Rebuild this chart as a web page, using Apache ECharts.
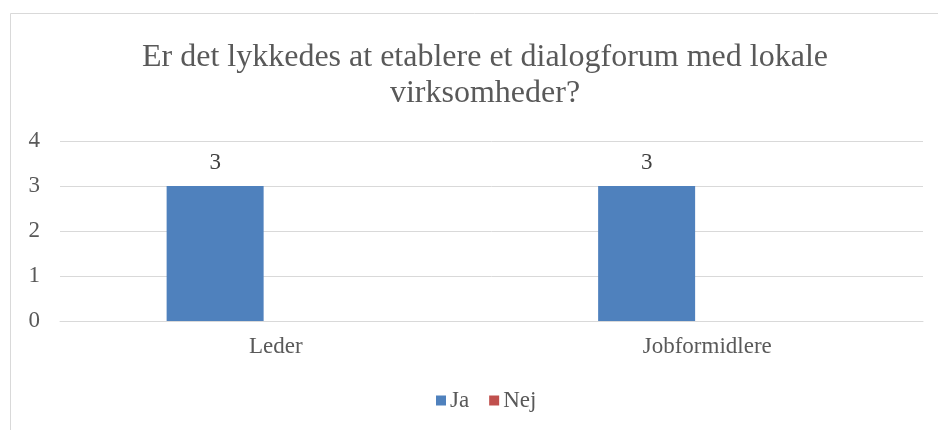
<!DOCTYPE html>
<html>
<head>
<meta charset="utf-8">
<script src="https://cdn.jsdelivr.net/npm/echarts@6/dist/echarts.min.js"></script>
<style>
  html, body { margin: 0; padding: 0; background: #fff; }
  #chart { width: 938px; height: 430px; }
</style>
</head>
<body>
<div id="chart"></div>
<script>
// data
const categories = ['Leder', 'Jobformidlere'];
const jaValues = [3, 3];
const nejValues = [0, 0];
const yTicks = [0, 1, 2, 3, 4];

const serif = '"Liberation Serif", "DejaVu Serif", serif';
const chart = echarts.init(document.getElementById('chart'));

const option = {
  animation: false,
  backgroundColor: '#fff',
  textStyle: { fontFamily: serif },
  title: {
    text: 'Er det lykkedes at etablere et dialogforum med lokale\nvirksomheder?',
    left: 480,
    textAlign: 'center',
    top: 35,
    textStyle: {
      fontFamily: serif,
      fontSize: 32,
      fontWeight: 'normal',
      color: '#595959',
      lineHeight: 36
    }
  },
  graphic: [{
    type: 'rect',
    shape: { x: 10.5, y: 13.5, width: 1000, height: 500 },
    style: { fill: 'none', stroke: '#d9d9d9', lineWidth: 1 },
    silent: true
  }],
  legend: {
    data: ['Ja', 'Nej'],
    bottom: 13,
    left: 431,
    icon: 'rect',
    itemWidth: 10,
    itemHeight: 10,
    itemGap: 20,
    textStyle: { fontFamily: serif, fontSize: 23, color: '#595959', padding: [0, 0, 0, -1] }
  },
  grid: {
    left: 60,
    right: 15,
    top: 141,
    bottom: 109,
    outerBoundsMode: 'none'
  },
  xAxis: {
    type: 'category',
    data: categories,
    axisLine: { show: true, lineStyle: { color: '#d9d9d9', width: 1 } },
    axisTick: { show: false },
    axisLabel: { fontFamily: serif, fontSize: 23, color: '#595959', margin: 14 }
  },
  yAxis: {
    type: 'value',
    min: yTicks[0],
    max: yTicks[yTicks.length - 1],
    interval: 1,
    axisLine: { show: false },
    axisTick: { show: false },
    axisLabel: { fontFamily: serif, fontSize: 23, color: '#595959', margin: 20 },
    splitLine: { lineStyle: { color: '#d9d9d9', width: 1 } }
  },
  series: [
    {
      name: 'Ja',
      type: 'bar',
      data: jaValues,
      barWidth: 97,
      barGap: '25%',
      itemStyle: { color: '#4f81bd' },
      label: {
        show: true,
        position: 'top',
        distance: 12,
        fontFamily: serif,
        fontSize: 23,
        color: '#404040'
      }
    },
    {
      name: 'Nej',
      type: 'bar',
      data: nejValues,
      barWidth: 97,
      barGap: '25%',
      itemStyle: { color: '#c0504d' }
    }
  ]
};

chart.setOption(option);
window.addEventListener('resize', () => chart.resize());
</script>
</body>
</html>
